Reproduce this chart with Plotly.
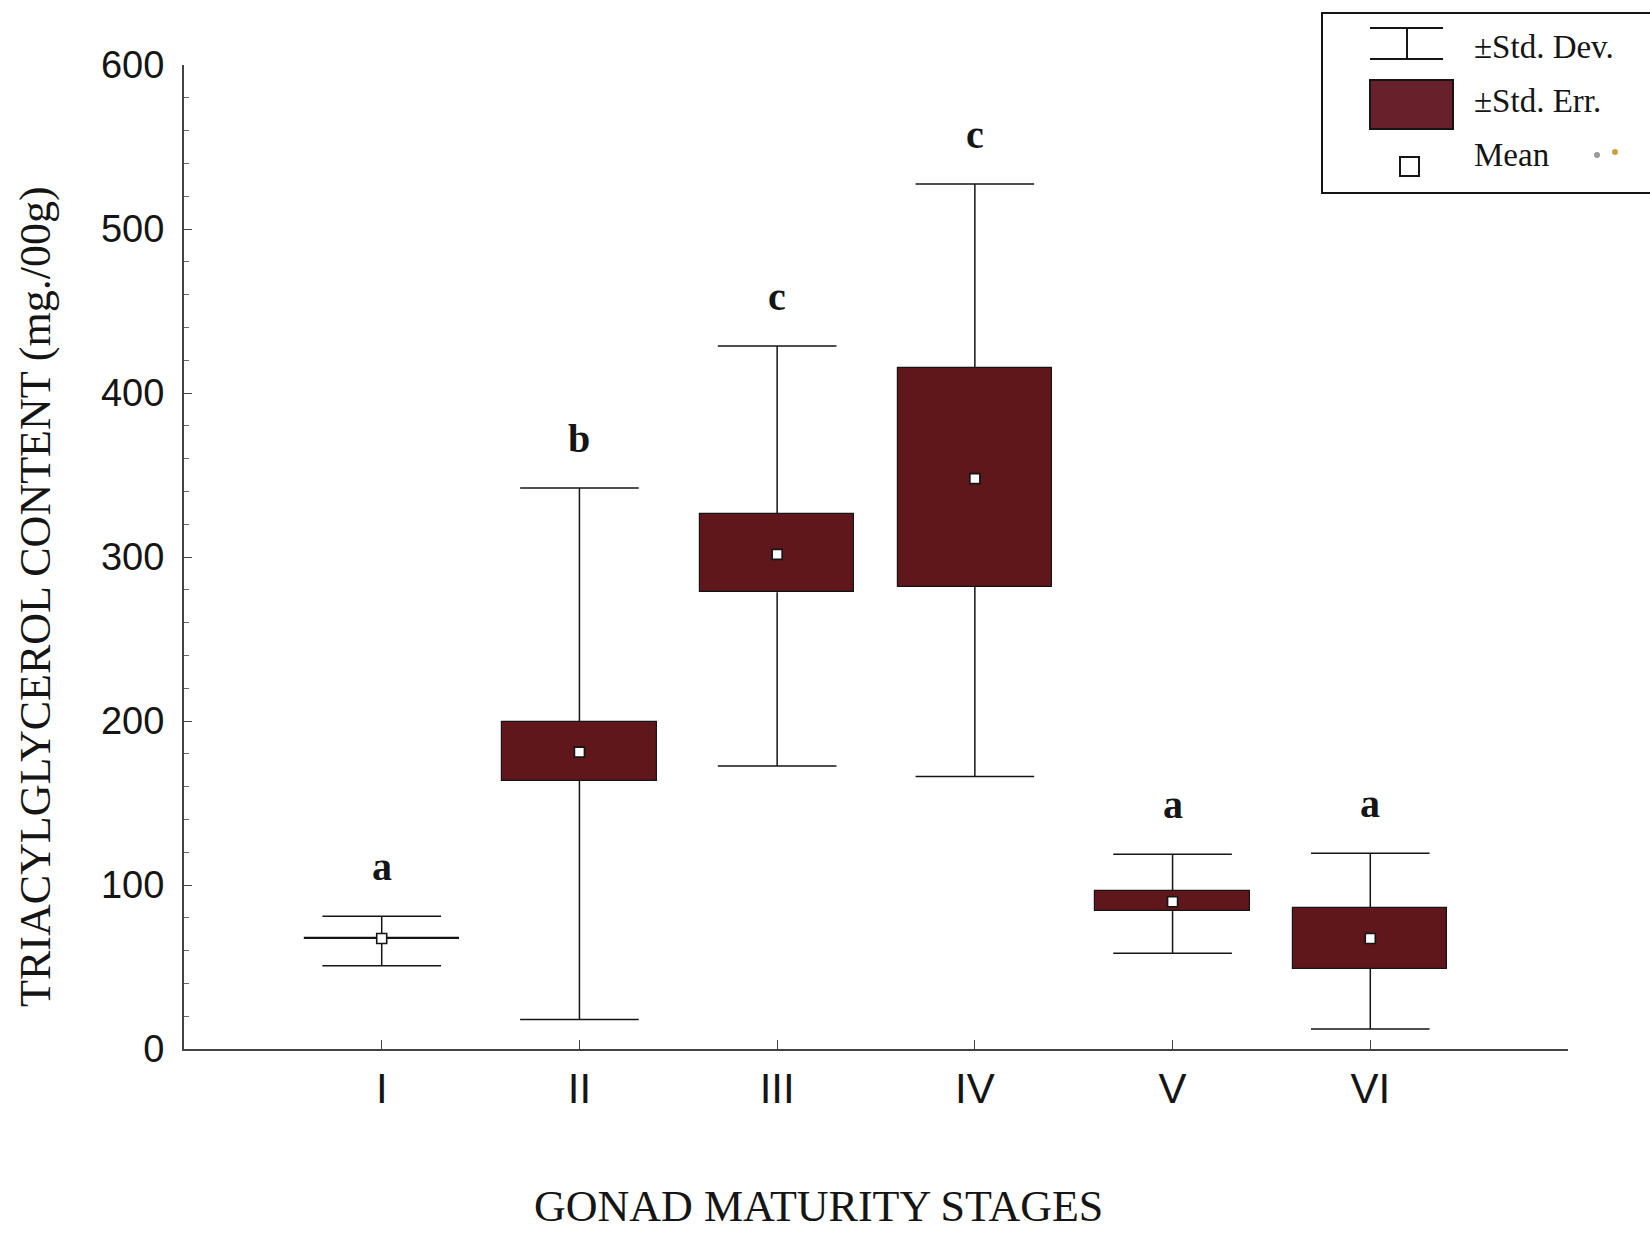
import plotly.graph_objects as go

# ---- data ----
stages = ["I", "II", "III", "IV", "V", "VI"]
means = [67.4, 181.0, 301.6, 347.8, 89.8, 67.4]
sd_low = [50.7, 18.0, 172.6, 166.2, 58.4, 12.2]
sd_high = [80.9, 342.0, 428.7, 527.5, 118.7, 119.4]
se_low = [66.8, 163.6, 278.5, 281.7, 84.1, 48.8]
se_high = [67.8, 199.6, 326.0, 415.2, 96.3, 86.0]
letters = ["a", "b", "c", "c", "a", "a"]
y_ticks = [0, 100, 200, 300, 400, 500, 600]

xs = list(range(1, len(stages) + 1))

# ---- layout constants ----
W, H = 1650, 1235
L, R, T, B = 184, 82, 65, 186
PW, PH = W - L - R, H - T - B


def px(x):
    return (x - L) / PW


def py(y):
    return (H - B - y) / PH


BOX_COLOR = "#5f171b"
INK = "#151515"
SERIF = "Liberation Serif, Times New Roman, serif"
SANS = "Liberation Sans, Arial, Helvetica, sans-serif"
CAP = 0.30

fig = go.Figure()

# boxes (± std. err.)
fig.add_trace(go.Bar(
    x=xs, y=[h - l for h, l in zip(se_high, se_low)], base=se_low,
    width=0.78, marker=dict(color=BOX_COLOR, line=dict(color=INK, width=1.2)),
    hoverinfo="skip", showlegend=False,
))

# whiskers (± std. dev.)
wx, wy = [], []
for x, lo, hi, blo, bhi in zip(xs, sd_low, sd_high, se_low, se_high):
    wx += [x, x, None, x, x, None, x - CAP, x + CAP, None, x - CAP, x + CAP, None]
    wy += [lo, blo, None, bhi, hi, None, lo, lo, None, hi, hi, None]
fig.add_trace(go.Scatter(x=wx, y=wy, mode="lines",
                         line=dict(color=INK, width=1.5),
                         hoverinfo="skip", showlegend=False))

# means
fig.add_trace(go.Scatter(x=xs, y=means, mode="markers",
                         marker=dict(symbol="square", size=10, color="white",
                                     line=dict(color=INK, width=1.6)),
                         showlegend=False))

# significance letters
for x, hi, t in zip(xs, sd_high, letters):
    fig.add_annotation(x=x, y=hi, text="<b>%s</b>" % t, showarrow=False,
                       yanchor="bottom", yshift=25,
                       font=dict(family=SERIF, size=40, color=INK))

# axis titles
fig.add_annotation(xref="paper", yref="paper", x=px(818), y=py(1206),
                   text="GONAD MATURITY STAGES", showarrow=False,
                   xanchor="center", yanchor="middle",
                   font=dict(family=SERIF, size=44, color=INK))
fig.add_annotation(xref="paper", yref="paper", x=px(35), y=py(597),
                   text="TRIACYLGLYCEROL CONTENT (mg./00g)", showarrow=False,
                   textangle=-90, xanchor="center", yanchor="middle",
                   font=dict(family=SERIF, size=44, color=INK))

# legend (drawn manually)
shapes = [
    dict(type="rect", xref="paper", yref="paper", x0=px(1322), x1=px(1668),
         y0=py(13), y1=py(193), line=dict(color=INK, width=2)),
    dict(type="line", xref="paper", yref="paper", x0=px(1370), x1=px(1443),
         y0=py(28), y1=py(28), line=dict(color=INK, width=2)),
    dict(type="line", xref="paper", yref="paper", x0=px(1370), x1=px(1443),
         y0=py(59), y1=py(59), line=dict(color=INK, width=2)),
    dict(type="line", xref="paper", yref="paper", x0=px(1407), x1=px(1407),
         y0=py(28), y1=py(59), line=dict(color=INK, width=2)),
    dict(type="rect", xref="paper", yref="paper", x0=px(1370), x1=px(1453),
         y0=py(80), y1=py(129), fillcolor="#68202a", line=dict(color=INK, width=2)),
    dict(type="rect", xref="paper", yref="paper", x0=px(1400), x1=px(1419),
         y0=py(157), y1=py(176), fillcolor="white", line=dict(color=INK, width=2)),
    dict(type="circle", xref="paper", yref="paper", x0=px(1594), x1=px(1600),
         y0=py(152), y1=py(158), fillcolor="#9a9a9a", line=dict(width=0)),
    dict(type="circle", xref="paper", yref="paper", x0=px(1612), x1=px(1618),
         y0=py(149), y1=py(155), fillcolor="#c8a040", line=dict(width=0)),
]
for txt, yc in [("±Std. Dev.", 47), ("±Std. Err.", 101), ("Mean", 155)]:
    fig.add_annotation(xref="paper", yref="paper", x=px(1472), y=py(yc),
                       text=txt, showarrow=False, xanchor="left", yanchor="middle",
                       font=dict(family=SERIF, size=33, color=INK))

fig.update_layout(
    width=W, height=H,
    margin=dict(l=L, r=R, t=T, b=B),
    paper_bgcolor="white", plot_bgcolor="white",
    shapes=shapes, showlegend=False, bargap=0,
    xaxis=dict(range=[0, 7], tickvals=xs + [7], ticktext=stages + [""],
               ticks="inside", ticklen=9, tickwidth=1.2, tickcolor="#444",
               showline=True, linecolor="#444", linewidth=2,
               showgrid=False, zeroline=False, ticklabelstandoff=2,
               tickfont=dict(family=SANS, size=42, color=INK)),
    yaxis=dict(range=[0, 600], tickvals=y_ticks,
               ticks="inside", ticklen=8, tickwidth=1.2, tickcolor="#444",
               minor=dict(dtick=20, tick0=0, ticks="inside", ticklen=5,
                          tickwidth=1, tickcolor="#666"),
               showline=True, linecolor="#444", linewidth=2,
               showgrid=False, zeroline=False, ticklabelstandoff=10,
               tickfont=dict(family=SANS, size=38, color=INK)),
)

fig.write_html("out.html")
